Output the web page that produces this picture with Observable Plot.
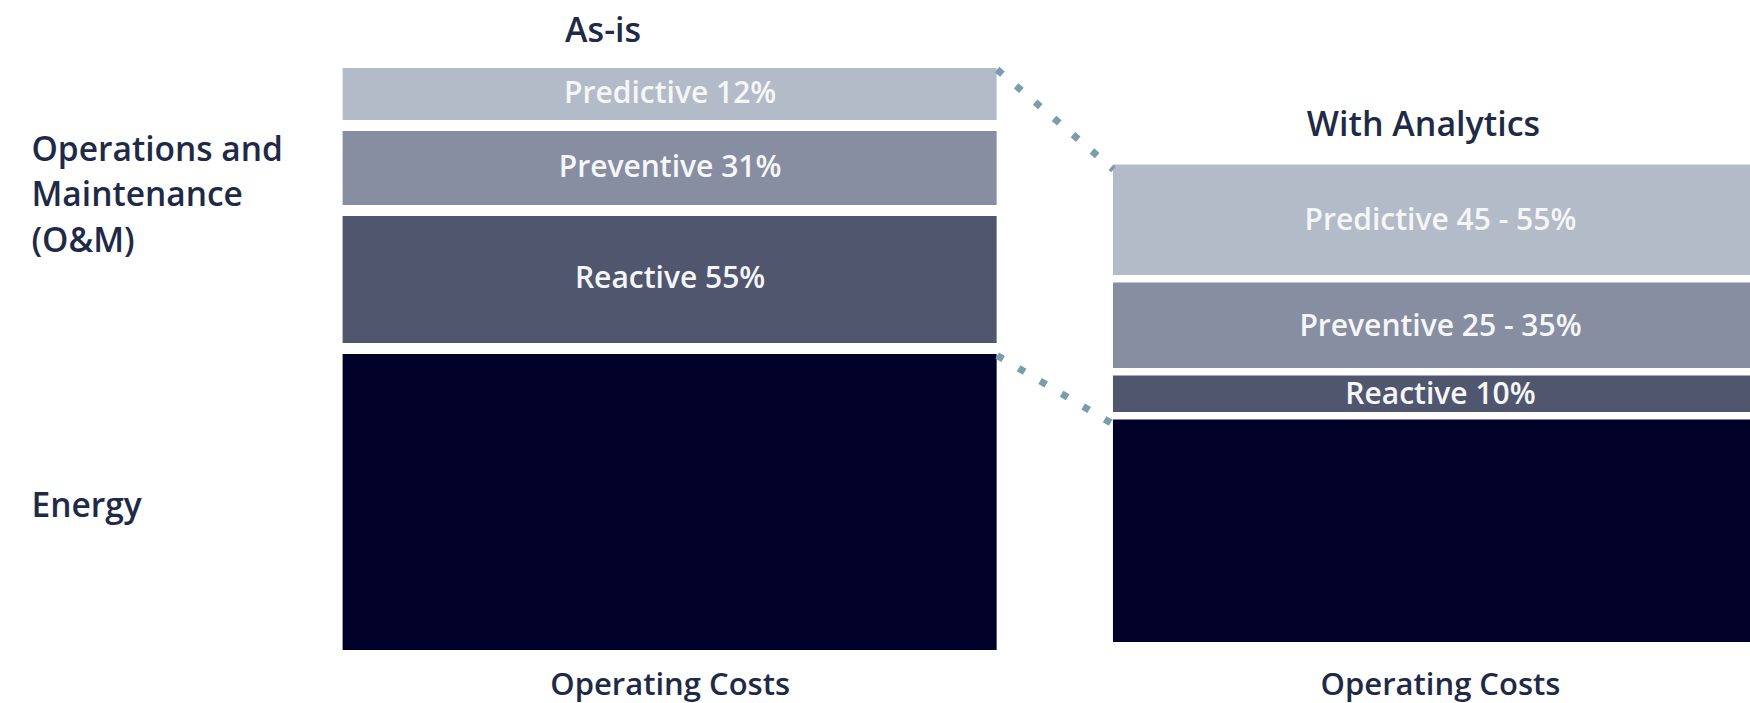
<!DOCTYPE html>
<html><head><meta charset="utf-8">
<script src="https://cdn.jsdelivr.net/npm/d3@7"></script>
<script src="https://cdn.jsdelivr.net/npm/@observablehq/plot@0.6"></script>
<style>html,body{margin:0;padding:0;background:#fff;overflow:hidden;}</style>
</head><body><div id="chart"></div>
<script>
// ---- data (relative operating cost units, stacked bottom → top) ----
const charts = ["As-is", "With Analytics"];
const segments = ["Energy", "Reactive", "Preventive", "Predictive"];
const asIsCost = [307, 138, 85, 63];
const withAnalyticsCost = [230, 44, 93, 118];
const chartBase = [0, 8];
const asIsLabels = ["", "Reactive 55%", "Preventive 31%", "Predictive 12%"];
const withAnalyticsLabels = ["", "Reactive 10%", "Preventive 25 - 35%", "Predictive 45 - 55%"];
const groupLabels = ["Energy", "Operations and\nMaintenance\n(O&M)"];
const axisLabel = "Operating Costs";

// ---- build table ----
const colors = {Energy: "#000028", Reactive: "#4f566e", Preventive: "#878ea2", Predictive: "#b4bbc8"};
const BAR = 0.849;
const costs = [asIsCost, withAnalyticsCost];
const labels = [asIsLabels, withAnalyticsLabels];
const rows = [];
const tops = [];
charts.forEach((c, i) => {
  let acc = chartBase[i];
  segments.forEach((s, j) => {
    rows.push({chart: c, ci: i, segment: s, y1: acc, y2: acc + costs[i][j], label: labels[i][j]});
    acc += costs[i][j];
  });
  tops.push(acc);
});
const energyTop = charts.map((c, i) => chartBase[i] + costs[i][0]);
const connectors = [
  {x1: BAR, y1: tops[0], x2: 1, y2: tops[1]},
  {x1: BAR, y1: energyTop[0], x2: 1, y2: energyTop[1]}
];
const energyGroup = [{label: groupLabels[0], y: (chartBase[0] + energyTop[0]) / 2}];
const omGroup = [{label: groupLabels[1], y: (energyTop[0] + tops[0]) / 2}];
const titles = charts.map((c, i) => ({title: c, x: i + BAR / 2, y: tops[i]}));

const ink = "#1e2a46";
const font = "'Open Sans', sans-serif";

const plot = Plot.plot({
  width: 1750,
  height: 703,
  margin: 0,
  x: {type: "linear", domain: [0, 1 + BAR], range: [342.6, 1767], axis: null},
  y: {type: "linear", domain: [0, 650], range: [650, 0], axis: null},
  style: {fontFamily: font, background: "white", overflow: "hidden"},
  marks: [
    Plot.rect(rows.filter(d => d.ci === 0), {
      x1: d => d.ci, x2: d => d.ci + BAR, y1: "y1", y2: "y2",
      fill: d => colors[d.segment], insetTop: 11
    }),
    Plot.rect(rows.filter(d => d.ci === 1), {
      x1: d => d.ci, x2: d => d.ci + BAR, y1: "y1", y2: "y2",
      fill: d => colors[d.segment], insetTop: 7.5
    }),
    Plot.link(connectors, {
      x1: "x1", y1: "y1", x2: "x2", y2: "y2", dy: 12,
      stroke: "#7b9cab", strokeWidth: 7, strokeDasharray: "7 18"
    }),
    Plot.text(rows.filter(d => d.label), {
      x: d => d.ci + BAR / 2, y: d => (d.y1 + d.y2) / 2, text: "label", dy: 4,
      fill: "#f5f6f8", fontSize: 30, fontWeight: 600
    }),
    Plot.text(titles.filter((d, i) => i === 0), {
      x: "x", y: "y", text: "title", dy: -26, dx: -67,
      fill: ink, fontSize: 34, fontWeight: 600
    }),
    Plot.text(titles.filter((d, i) => i === 1), {
      x: "x", y: "y", text: "title", dy: -32, dx: -17,
      fill: ink, fontSize: 34, fontWeight: 600
    }),
    Plot.text(charts, {
      x: (d, i) => i + BAR / 2, y: () => 0, text: () => axisLabel, dy: 35,
      fill: ink, fontSize: 31, fontWeight: 600
    }),
    Plot.text(energyGroup, {
      frameAnchor: "left", y: "y", text: "label", dx: 31, dy: 9,
      textAnchor: "start",
      fill: ink, fontSize: 33.5, fontWeight: 600
    }),
    Plot.text(omGroup, {
      frameAnchor: "left", y: "y", text: "label", dx: 31, dy: -9,
      textAnchor: "start", lineHeight: 1.36,
      fill: ink, fontSize: 33.5, fontWeight: 600
    })
  ]
});
document.getElementById("chart").append(plot);
</script>
</body></html>
